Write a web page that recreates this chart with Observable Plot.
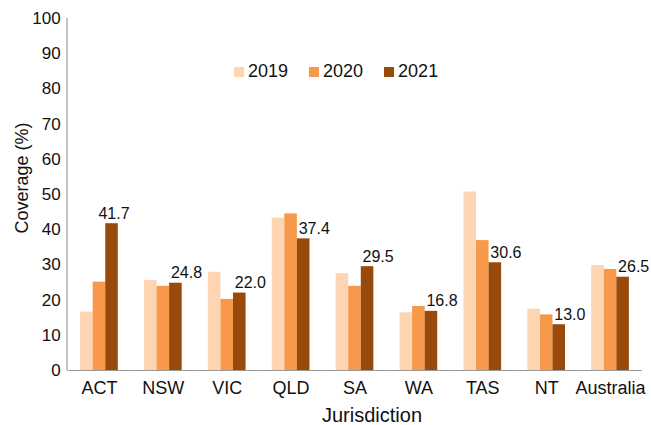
<!DOCTYPE html>
<html>
<head>
<meta charset="utf-8">
<script src="https://cdn.jsdelivr.net/npm/d3@7"></script>
<script src="https://cdn.jsdelivr.net/npm/@observablehq/plot@0.6"></script>
<style>
  body { margin: 0; background: #fff; }
  #wrap { position: relative; width: 651px; height: 425px; font-family: "Liberation Sans", Arial, Helvetica, sans-serif; color: #111; }
  #legend { position: absolute; left: 234px; top: 61px; display: flex; gap: 0; font-size: 18px; }
  .item { display: flex; align-items: center; margin-right: 21px; }
  .sw { width: 10px; height: 10px; margin-right: 4px; }
  #ytitle { position: absolute; left: 22px; top: 178px; transform: translate(-50%, -50%) rotate(-90deg); font-size: 18px; white-space: nowrap; }
  #xtitle { position: absolute; left: 372px; top: 415px; transform: translate(-50%, -50%); font-size: 20px; white-space: nowrap; }
</style>
</head>
<body>
<div id="wrap"></div>
<script>
const jurisdictions = ["ACT", "NSW", "VIC", "QLD", "SA", "WA", "TAS", "NT", "Australia"];
const years = ["2019", "2020", "2021"];
const v2019 = [16.6, 25.6, 27.9, 43.3, 27.5, 16.4, 50.7, 17.4, 29.8];
const v2020 = [25.1, 23.9, 20.2, 44.5, 23.9, 18.2, 36.9, 15.8, 28.7];
const v2021 = [41.7, 24.8, 22.0, 37.4, 29.5, 16.8, 30.6, 13.0, 26.5];
const yTicks = [0, 10, 20, 30, 40, 50, 60, 70, 80, 90, 100];
const colors = ["#FDD5B3", "#F7984A", "#994A0A"];

const series = [v2019, v2020, v2021];
const data = [];
jurisdictions.forEach((j, i) => {
  years.forEach((y, k) => data.push({j, year: y, v: series[k][i]}));
});
const labels = data.filter(d => d.year === "2021");
const labelsMain = labels.filter(d => d.j !== "ACT");
const labelsACT = labels.filter(d => d.j === "ACT");

const plot = Plot.plot({
  width: 651,
  height: 425,
  marginTop: 18,
  marginBottom: 55,
  marginLeft: 67,
  marginRight: 9,
  style: {fontFamily: "'Liberation Sans', Arial, Helvetica, sans-serif", fontSize: "16px", color: "#111", background: "#fff"},
  fx: {domain: jurisdictions, paddingInner: 0.41, paddingOuter: 0.205, round: false, label: null},
  x: {domain: years, padding: 0, round: false, axis: null},
  y: {domain: [0, 100], label: null},
  color: {domain: years, range: colors},
  marks: [
    Plot.barY(data, {fx: "j", x: "year", y: "v", fill: "year"}),
    Plot.ruleY([0], {stroke: "#9a9a9a", strokeWidth: 1.2, insetLeft: -13, insetRight: -13}),
    Plot.axisY({ticks: yTicks, tickSize: 0, tickPadding: 20, fill: "#111", fontSize: 17, label: null}),
    Plot.axisFx({anchor: "bottom", tickSize: 0, tickPadding: 11, fontSize: 18, fill: "#111", label: null}),
    Plot.text(labelsMain, {fx: "j", x: "year", y: "v", text: d => d.v.toFixed(1), textAnchor: "start", dx: -5, dy: -5, lineAnchor: "bottom", fontSize: 16, fill: "#111"}),
    Plot.text(labelsACT, {fx: "j", x: "year", y: "v", text: d => d.v.toFixed(1), textAnchor: "middle", dx: 2, dy: -5, lineAnchor: "bottom", fontSize: 16, fill: "#111"})
  ]
});

// y-axis line drawn with the plot's own y scale
const ys = plot.scale("y");
d3.select(plot).append("line")
  .attr("x1", 67).attr("x2", 67)
  .attr("y1", ys.apply(100)).attr("y2", ys.apply(0))
  .attr("stroke", "#9a9a9a").attr("stroke-width", 1.2);

const wrap = document.getElementById("wrap");
wrap.appendChild(plot);

const legend = document.createElement("div");
legend.id = "legend";
years.forEach((y, k) => {
  const it = document.createElement("div");
  it.className = "item";
  const sw = document.createElement("div");
  sw.className = "sw";
  sw.style.background = colors[k];
  const t = document.createElement("span");
  t.textContent = y;
  it.appendChild(sw); it.appendChild(t);
  legend.appendChild(it);
});
wrap.appendChild(legend);

const yt = document.createElement("div");
yt.id = "ytitle"; yt.textContent = "Coverage (%)";
wrap.appendChild(yt);
const xt = document.createElement("div");
xt.id = "xtitle"; xt.textContent = "Jurisdiction";
wrap.appendChild(xt);
</script>
</body>
</html>
